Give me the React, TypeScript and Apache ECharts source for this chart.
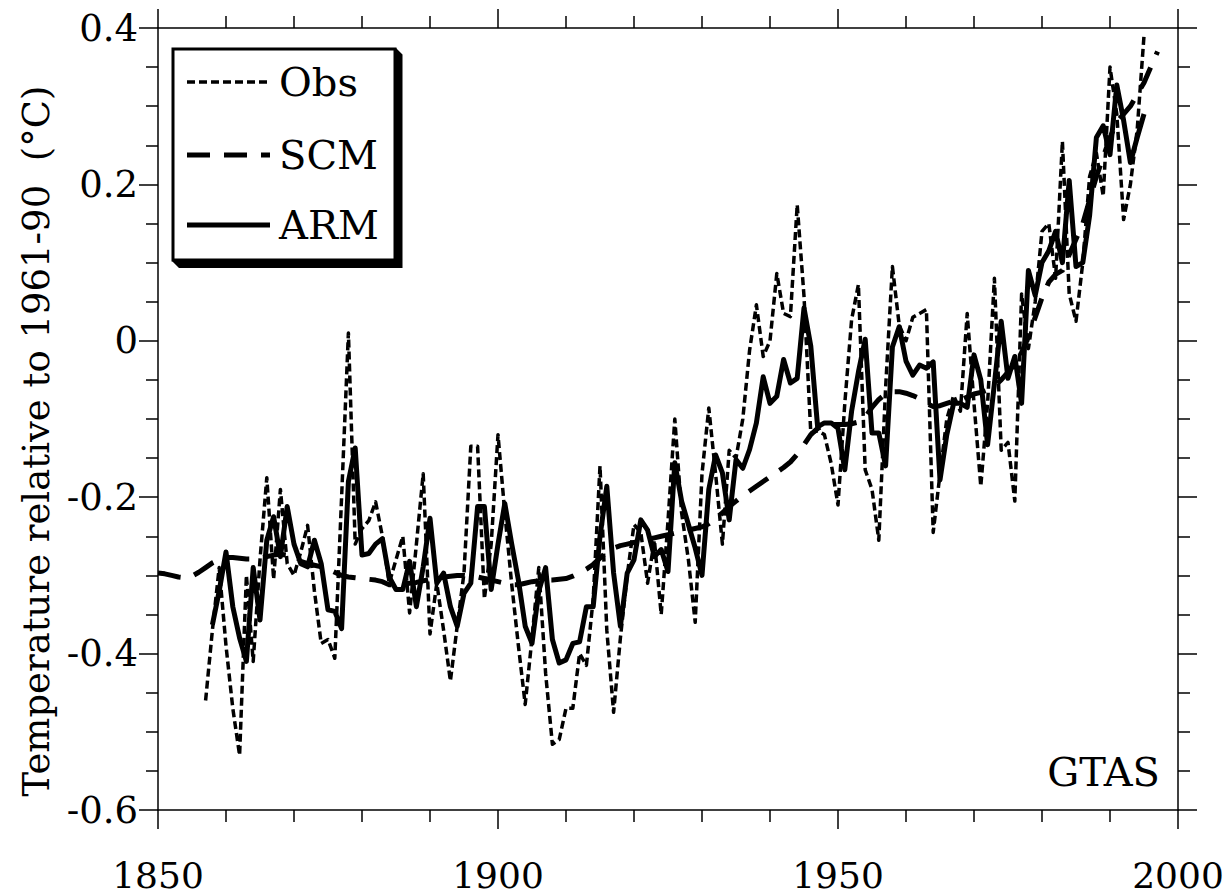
import React, { useEffect, useRef } from "react";
import * as echarts from "echarts";

// ---------- data ----------
const X_MIN = 1850;
const X_MAX = 2000;
const X_INTERVAL = 50;
const Y_MIN = -0.6;
const Y_MAX = 0.4;
const Y_INTERVAL = 0.2;

const legendLabels = ["Obs", "SCM", "ARM"];
const yAxisTitle = "Temperature relative to 1961-90  (°C)";
const panelLabel = "GTAS";

// Observed annual anomalies, 1857-1995
const obsStartYear = 1857;
const obsValues = [
  -0.46, -0.37, -0.29,
  -0.39, -0.47, -0.53, -0.3, -0.41, -0.28, -0.175, -0.305, -0.19, -0.285,
  -0.3, -0.27, -0.236, -0.32, -0.387, -0.382, -0.406, -0.2, 0.01, -0.26,
  -0.24, -0.23, -0.206, -0.25, -0.31, -0.28, -0.25, -0.348, -0.26, -0.17,
  -0.375, -0.31, -0.37, -0.435, -0.365, -0.297, -0.135, -0.135, -0.33, -0.26,
  -0.12, -0.22, -0.31, -0.39, -0.465, -0.38, -0.29, -0.425, -0.516, -0.51,
  -0.47, -0.47, -0.4, -0.415, -0.33, -0.16, -0.37, -0.475, -0.38, -0.3,
  -0.235, -0.245, -0.31, -0.255, -0.35, -0.23, -0.1, -0.22, -0.28, -0.36,
  -0.17, -0.086, -0.17, -0.26, -0.14, -0.15, -0.1, -0.012, 0.046, -0.02,
  0.0, 0.086, 0.035, 0.031, 0.174, 0.057, -0.118, -0.115, -0.12, -0.157,
  -0.21, -0.08, 0.027, 0.072, -0.165, -0.19, -0.255, -0.06, 0.095, 0.02,
  0.0, 0.03, 0.035, 0.04, -0.245, -0.17, -0.1, -0.07, -0.09, 0.035,
  -0.08, -0.186, -0.08, 0.08, -0.14, -0.13, -0.205, 0.06, -0.01, 0.05,
  0.14, 0.15, 0.08, 0.255, 0.06, 0.025, 0.1, 0.21, 0.24, 0.185,
  0.35, 0.29, 0.155, 0.2, 0.27, 0.39,
];

// ARM simulation, 1858-1995
const armStartYear = 1858;
const armValues = [
  -0.363, -0.32,
  -0.27, -0.34, -0.38, -0.41, -0.29, -0.357, -0.255, -0.225, -0.276, -0.212,
  -0.26, -0.285, -0.289, -0.255, -0.285, -0.344, -0.346, -0.368, -0.18, -0.137,
  -0.274, -0.272, -0.26, -0.253, -0.302, -0.318, -0.318, -0.282, -0.34, -0.289,
  -0.227, -0.31, -0.297, -0.34, -0.365, -0.323, -0.31, -0.212, -0.212, -0.318,
  -0.26, -0.208, -0.259, -0.306, -0.365, -0.387, -0.32, -0.29, -0.382, -0.412,
  -0.408, -0.387, -0.385, -0.34, -0.34, -0.25, -0.186, -0.297, -0.365, -0.297,
  -0.28, -0.229, -0.242, -0.276, -0.267, -0.295, -0.156, -0.205, -0.235, -0.265,
  -0.3, -0.19, -0.146, -0.169, -0.229, -0.152, -0.163, -0.139, -0.105, -0.046,
  -0.08, -0.071, -0.024, -0.054, -0.048, 0.042, -0.007, -0.11, -0.105, -0.105,
  -0.112, -0.165, -0.09, -0.04, 0.002, -0.118, -0.118, -0.16, -0.008, 0.018,
  -0.026, -0.044, -0.031, -0.035, -0.027, -0.178, -0.12, -0.08, -0.08, -0.085,
  -0.018, -0.05, -0.133, -0.055, 0.025, -0.048, -0.02, -0.08, 0.09, 0.058,
  0.1, 0.115, 0.14, 0.1, 0.205, 0.095, 0.1, 0.16, 0.26, 0.275,
  0.238, 0.327, 0.282, 0.228, 0.26, 0.29,
];

// SCM simulation, 1850-1997
const scmStartYear = 1850;
const scmValues = [
  -0.297, -0.298, -0.3, -0.302, -0.303, -0.301, -0.296, -0.29, -0.284, -0.28,
  -0.277, -0.277, -0.278, -0.279, -0.279, -0.278, -0.276, -0.274, -0.273, -0.274,
  -0.277, -0.282, -0.285, -0.287, -0.289, -0.292, -0.296, -0.3, -0.302, -0.303,
  -0.304, -0.305, -0.306, -0.308, -0.312, -0.312, -0.311, -0.31, -0.309, -0.307,
  -0.305, -0.303, -0.302, -0.301, -0.3, -0.3, -0.301, -0.302, -0.304, -0.306,
  -0.308, -0.31, -0.312, -0.312, -0.31, -0.308, -0.307, -0.306, -0.306, -0.305,
  -0.304, -0.301, -0.297, -0.292, -0.286, -0.278, -0.27, -0.265, -0.262, -0.26,
  -0.258, -0.256, -0.254, -0.252, -0.25, -0.248, -0.246, -0.244, -0.242, -0.24,
  -0.238, -0.234, -0.228, -0.22, -0.212, -0.205, -0.198, -0.192, -0.186, -0.18,
  -0.174, -0.168, -0.162, -0.155, -0.145, -0.133, -0.12, -0.112, -0.108, -0.107,
  -0.107, -0.107, -0.106, -0.104, -0.098, -0.085, -0.075, -0.068, -0.065, -0.065,
  -0.067, -0.07, -0.074, -0.08, -0.084, -0.083, -0.08, -0.077, -0.076, -0.072,
  -0.068, -0.066, -0.063, -0.058, -0.05, -0.04, -0.03, -0.015, 0.005, 0.03,
  0.055, 0.075, 0.085, 0.09, 0.11, 0.13, 0.15, 0.18, 0.21, 0.235,
  0.26, 0.28, 0.29, 0.3, 0.315, 0.33, 0.35, 0.37,
];

// ---------- helpers ----------
const toPairs = (start: number, vals: number[]) => vals.map((v, i) => [start + i, v]);

const FONT = "DejaVu Serif";
const BLACK = "#000";

const GRID = { left: 158, top: 28, width: 1020, height: 782 };

const OBS_DASH = [8, 4];
const SCM_DASH = [23, 14];

function makeXAxis(position: "top" | "bottom", showLabel: boolean) {
  return {
    type: "value",
    position,
    min: X_MIN,
    max: X_MAX,
    interval: X_INTERVAL,
    axisLine: { show: true, onZero: false, lineStyle: { color: BLACK, width: 1.5 } },
    axisTick: { show: true, inside: false, length: 19, lineStyle: { color: BLACK, width: 1.5 } },
    minorTick: { show: true, splitNumber: 5, length: 12, lineStyle: { color: BLACK, width: 1.5 } },
    splitLine: { show: false },
    minorSplitLine: { show: false },
    axisLabel: {
      show: showLabel,
      margin: 47,
      fontSize: 36,
      lineHeight: 36,
      fontFamily: FONT,
      color: BLACK,
      formatter: (v: number) => String(Math.round(v)),
    },
  };
}

function makeYAxis(position: "left" | "right", showLabel: boolean) {
  return {
    type: "value",
    position,
    min: Y_MIN,
    max: Y_MAX,
    interval: Y_INTERVAL,
    axisLine: { show: true, onZero: false, lineStyle: { color: BLACK, width: 1.5 } },
    axisTick: { show: true, inside: false, length: 19, lineStyle: { color: BLACK, width: 1.5 } },
    minorTick: { show: true, splitNumber: 4, length: 12, lineStyle: { color: BLACK, width: 1.5 } },
    splitLine: { show: false },
    minorSplitLine: { show: false },
    axisLabel: {
      show: showLabel,
      margin: 20,
      fontSize: 37,
      fontFamily: FONT,
      color: BLACK,
      formatter: (v: number) => {
        const r = Math.round(v * 10) / 10;
        return r === 0 ? "0" : r.toFixed(1);
      },
    },
  };
}

export default function App() {
  const ref = useRef<HTMLDivElement | null>(null);

  useEffect(() => {
    if (!ref.current) return;
    const chart = echarts.init(ref.current, undefined, { renderer: "svg" });

    const legendRows = [
      { y: 82, dash: OBS_DASH, width: 3.5 },
      { y: 155, dash: SCM_DASH, width: 5 },
      { y: 225, dash: null as number[] | null, width: 5 },
    ];

    const graphic: any[] = [
      {
        type: "polygon",
        z: 100,
        shape: {
          points: [
            [396, 48],
            [402.5, 54.5],
            [402.5, 268],
            [179, 268],
            [172, 261],
            [396, 261],
          ],
        },
        style: { fill: BLACK },
      },
      {
        type: "rect",
        z: 101,
        shape: { x: 173, y: 49, width: 222, height: 211 },
        style: { fill: "#fff", stroke: BLACK, lineWidth: 3 },
      },
      ...legendRows.map((r) => ({
        type: "line",
        z: 102,
        shape: { x1: 187, y1: r.y, x2: 270, y2: r.y },
        style: {
          stroke: BLACK,
          lineWidth: r.width,
          lineDash: r.dash ? r.dash : undefined,
        },
      })),
      ...legendRows.map((r, i) => ({
        type: "text",
        z: 102,
        x: 279,
        y: r.y,
        style: {
          text: legendLabels[i],
          fontSize: 40,
          fontFamily: FONT,
          fill: BLACK,
          align: "left",
          verticalAlign: "middle",
        },
      })),
      {
        type: "text",
        z: 102,
        x: 1160,
        y: 772,
        style: {
          text: panelLabel,
          fontSize: 40,
          fontFamily: FONT,
          fill: BLACK,
          align: "right",
          verticalAlign: "middle",
        },
      },
      {
        type: "text",
        z: 102,
        x: 36,
        y: 441,
        rotation: Math.PI / 2,
        style: {
          text: yAxisTitle,
          fontSize: 37,
          fontFamily: FONT,
          fill: BLACK,
          align: "center",
          verticalAlign: "middle",
        },
      },
    ];

    chart.setOption({
      animation: false,
      backgroundColor: "#fff",
      grid: { ...GRID, containLabel: false },
      xAxis: [makeXAxis("bottom", true), makeXAxis("top", false)],
      yAxis: [makeYAxis("left", true), makeYAxis("right", false)],
      series: [
        {
          name: "SCM",
          type: "line",
          xAxisIndex: 0,
          yAxisIndex: 0,
          data: toPairs(scmStartYear, scmValues),
          symbol: "none",
          lineStyle: { color: BLACK, width: 5, type: SCM_DASH, join: "round" },
          z: 3,
        },
        {
          name: "Obs",
          type: "line",
          xAxisIndex: 0,
          yAxisIndex: 0,
          data: toPairs(obsStartYear, obsValues),
          symbol: "none",
          lineStyle: { color: BLACK, width: 3.5, type: OBS_DASH, join: "round" },
          z: 4,
        },
        {
          name: "ARM",
          type: "line",
          xAxisIndex: 0,
          yAxisIndex: 0,
          data: toPairs(armStartYear, armValues),
          symbol: "none",
          lineStyle: { color: BLACK, width: 5, type: "solid", join: "round" },
          z: 5,
        },
      ],
      graphic,
    });

    return () => {
      chart.dispose();
    };
  }, []);

  return (
    <div
      ref={ref}
      style={{ position: "absolute", left: 0, top: 0, width: 1230, height: 894, background: "#fff" }}
    />
  );
}
